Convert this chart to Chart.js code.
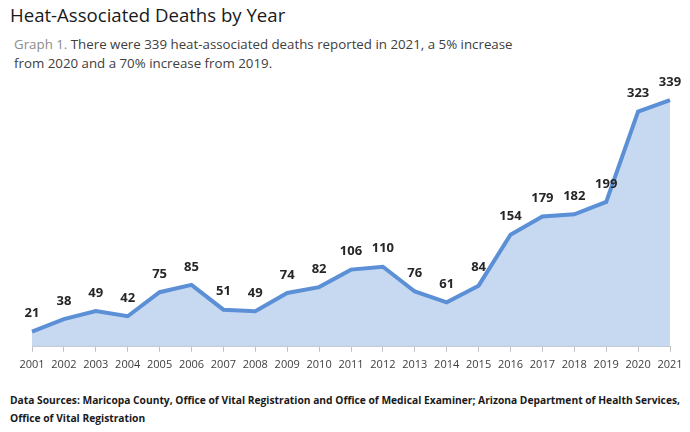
<!DOCTYPE html>
<html>
<head>
<meta charset="utf-8">
<script src="https://cdn.jsdelivr.net/npm/chart.js@4/dist/chart.umd.min.js"></script>
<style>
    html, body { margin: 0; padding: 0; background: #fff; }
    body { width: 690px; height: 432px; position: relative; overflow: hidden; font-family: "Open Sans", sans-serif; }
    #title { position: absolute; left: 10px; top: 2px; font-size: 18.6px; color: #1a1a1a; white-space: nowrap; }
    #subtitle { position: absolute; left: 14px; top: 35px; font-size: 13.3px; line-height: 19px; color: #404040; white-space: nowrap; }
    #subtitle .lead { color: #8c8c8c; }
    #chartWrap { position: absolute; left: 0; top: 70px; width: 690px; height: 307px; }
    #footer { position: absolute; left: 10px; top: 391px; font-size: 10.25px; line-height: 18px; font-weight: bold; color: #1a1a1a; white-space: nowrap; }
</style>
</head>
<body>
<div id="title">Heat-Associated Deaths by Year</div>
<div id="subtitle"><span class="lead">Graph 1.</span> There were 339 heat-associated deaths reported in 2021, a 5% increase<br>from 2020 and a 70% increase from 2019.</div>
<div id="chartWrap"><canvas id="deathsChart"></canvas></div>
<div id="footer">Data Sources: Maricopa County, Office of Vital Registration and Office of Medical Examiner; Arizona Department of Health Services,<br>Office of Vital Registration</div>
<script>
const years = ["2001", "2002", "2003", "2004", "2005", "2006", "2007", "2008", "2009", "2010", "2011",
    "2012", "2013", "2014", "2015", "2016", "2017", "2018", "2019", "2020", "2021"];
const deaths = [21, 38, 49, 42, 75, 85, 51, 49, 74, 82, 106, 110, 76, 61, 84, 154, 179, 182, 199, 323, 339];

// draws the bold value above each point
const valueLabels = {
    id: "valueLabels",
    afterDatasetsDraw(chart) {
        const ctx = chart.ctx;
        const meta = chart.getDatasetMeta(0);
        ctx.save();
        ctx.font = "bold 13px 'Open Sans', sans-serif";
        ctx.fillStyle = "#262626";
        ctx.textAlign = "center";
        ctx.textBaseline = "middle";
        meta.data.forEach((point, i) => {
            ctx.fillText(String(deaths[i]), point.x, point.y - 18);
        });
        ctx.restore();
    },
};

document.addEventListener("DOMContentLoaded", () => {
    const ctx = document.getElementById("deathsChart").getContext("2d");
    new Chart(ctx, {
        type: "line",
        data: {
            labels: years,
            datasets: [{
                data: deaths,
                borderColor: "#5b8fd6",
                backgroundColor: "#c7d9f1",
                borderWidth: 4,
                fill: "origin",
                pointRadius: 0,
                tension: 0,
            }],
        },
        options: {
            responsive: true,
            maintainAspectRatio: false,
            animation: false,
            layout: { padding: { left: 32, right: 20, top: 22, bottom: 0 } },
            plugins: {
                legend: { display: false },
                tooltip: { enabled: false },
            },
            scales: {
                x: {
                    offset: false,
                    grid: {
                        display: true,
                        drawOnChartArea: false,
                        drawTicks: true,
                        tickLength: 5,
                        color: "#bfbfbf",
                    },
                    border: { display: true, color: "#bfbfbf" },
                    ticks: {
                        color: "#404040",
                        font: { family: "'Open Sans', sans-serif", size: 11 },
                        maxRotation: 0,
                        autoSkip: false,
                        padding: 6,
                    },
                },
                y: {
                    display: false,
                    min: 0,
                    max: 350,
                },
            },
        },
        plugins: [valueLabels],
    });
});
</script>
</body>
</html>
